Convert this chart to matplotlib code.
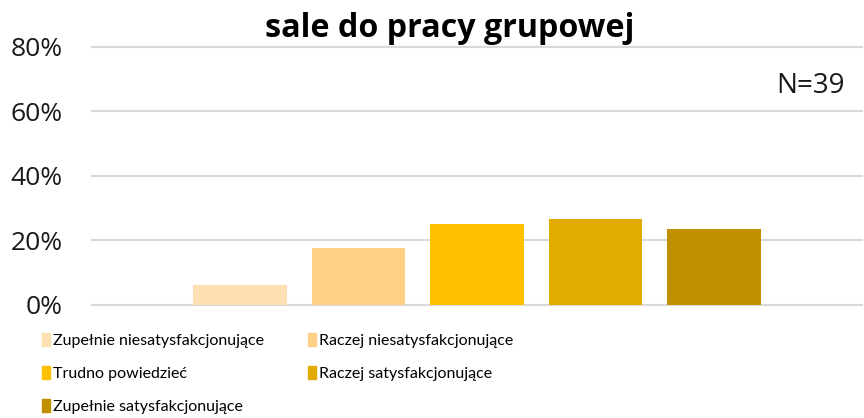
import matplotlib
matplotlib.use("Agg")
import matplotlib.pyplot as plt
from matplotlib.patches import Patch
from matplotlib.ticker import PercentFormatter
import numpy as np

categories = ["Zupełnie niesatysfakcjonujące", "Raczej niesatysfakcjonujące",
              "Trudno powiedzieć", "Raczej satysfakcjonujące",
              "Zupełnie satysfakcjonujące"]
values = [6.2, 17.7, 25.2, 26.7, 23.6]      # % odpowiedzi
colors = ["#FEDFB2", "#FED086", "#FFC000", "#E2AB00", "#C09000"]
title = "sale do pracy grupowej"
n_label = "N=39"

W, H = 864, 418
fig = plt.figure(figsize=(W / 100, H / 100), dpi=100)
ax = fig.add_axes([92 / W, 1 - 305 / H, (862 - 92) / W, (305 - 46.7) / H])

x = np.arange(len(values))
ax.bar(x, values, width=0.79, color=colors, zorder=3)
ax.set_xlim(-1.25, 5.25)
ax.set_ylim(0, 80)
ax.set_yticks([0, 20, 40, 60, 80])
ax.yaxis.set_major_formatter(PercentFormatter(decimals=0))
ax.set_xticks([])
ax.grid(axis="y", color="#D9D9D9", lw=1.5, zorder=0)
for line in ax.get_ygridlines():
    line.set_clip_on(False)
for s in ax.spines.values():
    s.set_visible(False)
ax.tick_params(axis="y", length=0, pad=21, labelsize=19, labelcolor="#1a1a1a")
for t in ax.get_yticklabels():
    t.set_fontfamily("Open Sans")

fig.text(450 / W, 1 - 37 / H, title, ha="center", va="baseline",
         fontsize=23.2, fontweight="bold", family="Open Sans")
fig.text(845 / W, 1 - 86 / H, n_label, ha="right", va="center",
         fontsize=20, family="Open Sans", color="#1a1a1a")

handles = [Patch(color=c, label=l) for c, l in zip(colors, categories)]
order = [0, 2, 4, 1, 3]
fig.legend([handles[i] for i in order], [categories[i] for i in order],
           ncol=2, loc="upper left", bbox_to_anchor=(42 / W, 1 - 333 / H),
           frameon=False, prop={"family": "Lato", "size": 11.5},
           handlelength=0.5, handleheight=0.875, handletextpad=0.2,
           columnspacing=2.75, labelspacing=1.12, borderaxespad=0, borderpad=0)

fig.savefig("out.png", dpi=100)
